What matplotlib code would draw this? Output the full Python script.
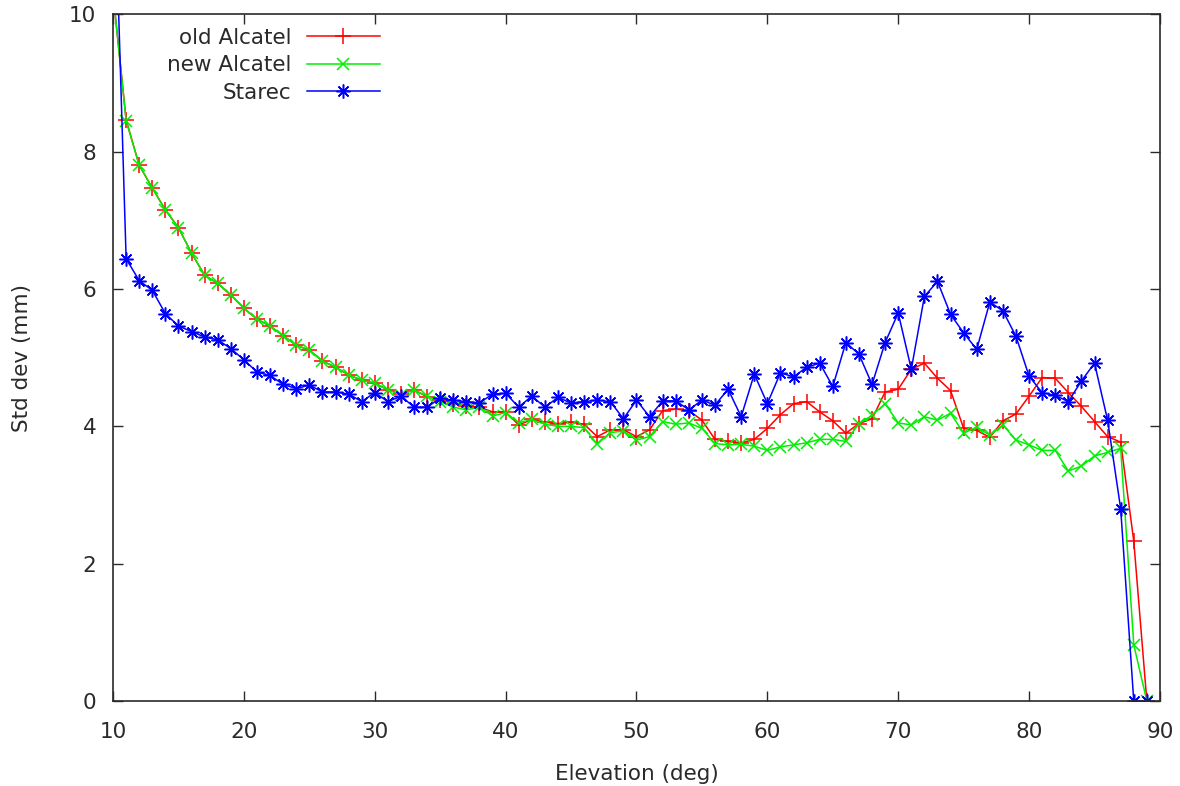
import numpy as np
import matplotlib
matplotlib.use('Agg')
import matplotlib.pyplot as plt

# elevation in degrees, one sample per degree
elev = list(range(10, 90))

old_alcatel = [10.3, 8.46, 7.80, 7.47, 7.15, 6.89, 6.52, 6.20, 6.08, 5.91,
               5.72, 5.56, 5.46, 5.32, 5.18, 5.11, 4.95, 4.86, 4.75, 4.67,
               4.63, 4.53, 4.47, 4.53, 4.43, 4.39, 4.33, 4.30, 4.28, 4.21,
               4.21, 4.02, 4.10, 4.06, 4.04, 4.06, 4.03, 3.85, 3.95, 3.95,
               3.85, 3.95, 4.23, 4.25, 4.23, 4.09, 3.81, 3.78, 3.76, 3.81,
               3.97, 4.17, 4.33, 4.36, 4.21, 4.08, 3.90, 4.04, 4.11, 4.50,
               4.54, 4.83, 4.92, 4.70, 4.52, 3.97, 3.94, 3.84, 4.08, 4.18,
               4.44, 4.71, 4.70, 4.49, 4.29, 4.07, 3.85, 3.77, 2.33, 0.0]

new_alcatel = [10.3, 8.45, 7.80, 7.47, 7.15, 6.89, 6.52, 6.20, 6.08, 5.91,
               5.72, 5.56, 5.46, 5.32, 5.18, 5.11, 4.95, 4.86, 4.75, 4.67,
               4.63, 4.53, 4.46, 4.53, 4.44, 4.36, 4.28, 4.24, 4.28, 4.15,
               4.20, 4.05, 4.10, 4.03, 4.00, 4.00, 3.98, 3.74, 3.91, 3.93,
               3.80, 3.85, 4.07, 4.03, 4.05, 3.97, 3.75, 3.73, 3.74, 3.71,
               3.65, 3.70, 3.73, 3.76, 3.81, 3.81, 3.78, 4.04, 4.16, 4.33,
               4.05, 4.02, 4.14, 4.09, 4.19, 3.90, 3.99, 3.87, 4.02, 3.80,
               3.73, 3.65, 3.65, 3.35, 3.42, 3.57, 3.62, 3.68, 0.82, 0.0]

starec = [12.7, 6.44, 6.12, 5.98, 5.64, 5.46, 5.38, 5.30, 5.26, 5.13,
          4.97, 4.79, 4.74, 4.61, 4.55, 4.60, 4.50, 4.50, 4.47, 4.36,
          4.49, 4.36, 4.44, 4.28, 4.28, 4.41, 4.38, 4.36, 4.34, 4.47,
          4.48, 4.28, 4.44, 4.28, 4.42, 4.34, 4.36, 4.38, 4.36, 4.11,
          4.38, 4.14, 4.37, 4.37, 4.24, 4.38, 4.31, 4.54, 4.14, 4.76,
          4.33, 4.78, 4.72, 4.86, 4.92, 4.58, 5.22, 5.05, 4.61, 5.22,
          5.65, 4.83, 5.89, 6.11, 5.63, 5.36, 5.12, 5.81, 5.68, 5.31,
          4.73, 4.49, 4.45, 4.36, 4.66, 4.92, 4.09, 2.80, 0.0, 0.0]

txt = '#2a2a2a'
fs = 15.5

fig = plt.figure(figsize=(11.8, 7.86), dpi=100)
ax = fig.add_axes([0.0958, 0.108, 0.8872, 0.874])

ax.plot(elev, old_alcatel, color='#ff0000', lw=1.1, marker='+', ms=11, mew=1.1,
        label='old Alcatel')
ax.plot(elev, new_alcatel, color='#00ee00', lw=1.1, marker='x', ms=8, mew=1.1,
        label='new Alcatel')
ax.plot(elev, starec, color='#0000ff', lw=1.1, marker=(8, 2, 0), ms=10, mew=1.1,
        label='Starec')

ax.set_xlim(10, 90)
ax.set_ylim(0, 10)
ax.set_xticks(range(10, 91, 10))
ax.set_yticks(range(0, 11, 2))
ax.tick_params(direction='in', length=7, width=1, top=True, right=True,
               labelsize=fs, colors=txt)
ax.tick_params(axis='x', pad=15)
ax.tick_params(axis='y', pad=12)
for s in ax.spines.values():
    s.set_linewidth(1.2)
    s.set_color(txt)

ax.set_xlabel('Elevation (deg)', fontsize=fs, color=txt, labelpad=16)
ax.set_ylabel('Std dev (mm)', fontsize=fs, color=txt, labelpad=27)

leg = ax.legend(loc='upper right', bbox_to_anchor=(0.255, 0.98), frameon=False,
                markerfirst=False, fontsize=fs, handlelength=3.4,
                labelspacing=0.35, handletextpad=0.7, borderpad=0,
                borderaxespad=0)
for t in leg.get_texts():
    t.set_color(txt)

fig.savefig('out.png', dpi=100)
